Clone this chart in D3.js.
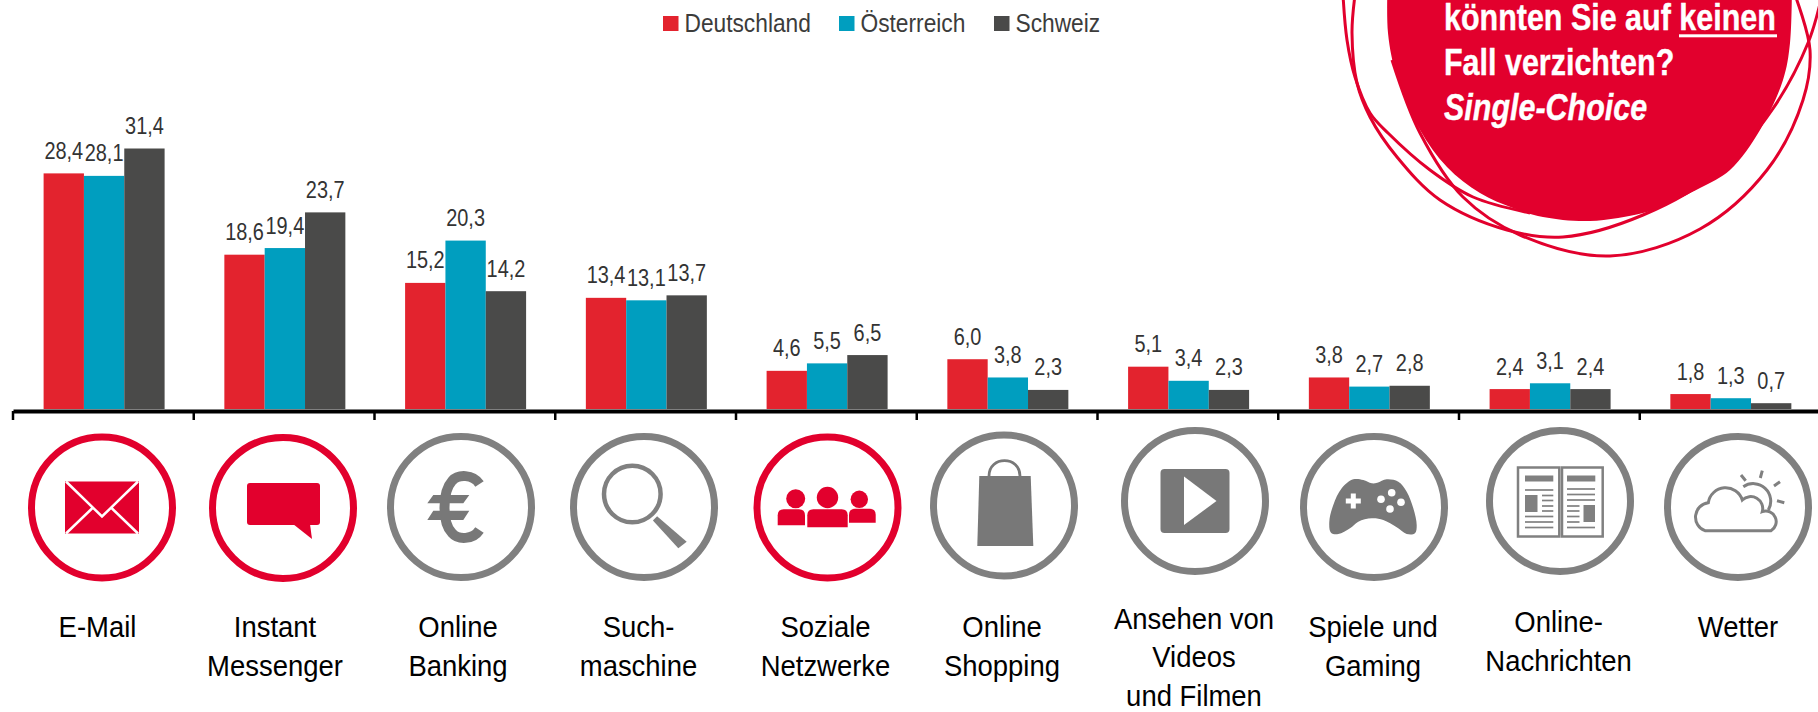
<!DOCTYPE html>
<html lang="de">
<head>
<meta charset="utf-8">
<title>Internet-Anwendungen</title>
<script src="https://cdn.jsdelivr.net/npm/d3@7"></script>
<style>
  html, body { margin: 0; padding: 0; background: #fff; overflow: hidden; }
  svg { display: block; }
  text { font-family: "Liberation Sans", Arial, sans-serif; }
</style>
</head>
<body>
<svg id="viz" width="1818" height="712"></svg>
<script>
// Chart data
const categories = ["E-Mail", "Instant Messenger", "Online Banking", "Suchmaschine", "Soziale Netzwerke",
  "Online Shopping", "Ansehen von Videos und Filmen", "Spiele und Gaming", "Online-Nachrichten", "Wetter"];
const categoryLines = [["E-Mail"], ["Instant", "Messenger"], ["Online", "Banking"], ["Such-", "maschine"], ["Soziale", "Netzwerke"],
  ["Online", "Shopping"], ["Ansehen von", "Videos", "und Filmen"], ["Spiele und", "Gaming"], ["Online-", "Nachrichten"], ["Wetter"]];
const seriesNames = ["Deutschland", "Österreich", "Schweiz"];
const deutschland = [28.4, 18.6, 15.2, 13.4, 4.6, 6.0, 5.1, 3.8, 2.4, 1.8];
const oesterreich = [28.1, 19.4, 20.3, 13.1, 5.5, 3.8, 3.4, 2.7, 3.1, 1.3];
const schweiz = [31.4, 23.7, 14.2, 13.7, 6.5, 2.3, 2.3, 2.8, 2.4, 0.7];
const questionLines = ["könnten Sie auf ", "Fall verzichten?", "Single-Choice"];
const questionEmphasis = "keinen";

(function () {
  "use strict";

  /*
  |--------------------------------------------------------------------------
  | Layout settings
  |--------------------------------------------------------------------------
  */

  const red = "#e3232e";
  const teal = "#009ebf";
  const dark = "#4a4a49";
  const brand = "#e2002d";
  const grey = "#808080";
  const greyFill = "#787878";

  const baseline = 409;

  // Icon circles and label blocks do not sit quite on the band centres
  const iconX = [102, 283, 461, 644, 827.5, 1004, 1195, 1374, 1560, 1738];
  const iconY = [507.5, 508, 507, 507, 507.5, 505.5, 501, 507, 501, 507];
  const labelX = [97.5, 275, 458, 638.5, 825.5, 1002, 1194, 1373, 1558.6, 1738];
  const labelY = [637, 637, 637, 637, 637, 637, 628.5, 637, 632, 637];
  const lineStep = 38.5;

  const legendX = [663, 839, 994];

  /*
  |--------------------------------------------------------------------------
  | Scales
  |--------------------------------------------------------------------------
  */

  const x = d3.scaleBand().domain(categories).range([13, 1820.5]);
  const xInner = d3.scaleBand().domain(seriesNames).range([30.6, 151.6]);
  const y = d3.scaleLinear().domain([0, 31.4]).range([baseline, 148.5]);
  const color = d3.scaleOrdinal().domain(seriesNames).range([red, teal, dark]);

  const comma = d3.formatLocale({ decimal: ",", thousands: ".", grouping: [3], currency: ["", ""] }).format(".1f");
  const seriesValues = [deutschland, oesterreich, schweiz];

  const svg = d3.select("#viz");

  /*
  |--------------------------------------------------------------------------
  | Bars and value labels
  |--------------------------------------------------------------------------
  */

  const cells = [];
  seriesNames.forEach((s, i) => {
    categories.forEach((c, j) => cells.push({ series: s, category: c, value: seriesValues[i][j] }));
  });

  const bars = svg.append("g");

  bars.selectAll("rect")
    .data(cells)
    .enter()
    .append("rect")
    .attr("x", d => x(d.category) + xInner(d.series))
    .attr("y", d => y(d.value))
    .attr("width", xInner.bandwidth())
    .attr("height", d => baseline - y(d.value))
    .attr("fill", d => color(d.series));

  bars.selectAll("text")
    .data(cells)
    .enter()
    .append("text")
    .attr("transform", d => `translate(${x(d.category) + xInner(d.series) + xInner.bandwidth() / 2},${y(d.value) - 14.5}) scale(0.83,1)`)
    .attr("text-anchor", "middle")
    .attr("font-size", 24)
    .attr("fill", "#333")
    .text(d => comma(d.value));

  /*
  |--------------------------------------------------------------------------
  | Axis (ticks sit between the bands)
  |--------------------------------------------------------------------------
  */

  const axis = svg.append("g")
    .attr("transform", "translate(0,411)")
    .call(d3.axisBottom(x).tickSizeInner(9).tickSizeOuter(0).tickFormat(""));

  axis.select(".domain").attr("stroke", "#000").attr("stroke-width", 3.8);
  axis.selectAll(".tick").attr("transform", d => `translate(${x(d)},0)`);
  axis.selectAll(".tick line").attr("stroke", "#000").attr("stroke-width", 2.5);

  /*
  |--------------------------------------------------------------------------
  | Legend
  |--------------------------------------------------------------------------
  */

  const legend = svg.append("g")
    .selectAll("g")
    .data(seriesNames)
    .enter()
    .append("g")
    .attr("transform", (d, i) => `translate(${legendX[i]},16)`);

  legend.append("rect")
    .attr("width", 15.5)
    .attr("height", 15)
    .attr("fill", d => color(d));

  legend.append("text")
    .attr("transform", "translate(21.5,16.3) scale(0.875,1)")
    .attr("font-size", 26)
    .attr("fill", "#3c3c3b")
    .text(d => d);

  /*
  |--------------------------------------------------------------------------
  | Category labels
  |--------------------------------------------------------------------------
  */

  const labels = svg.append("g")
    .selectAll("g")
    .data(categoryLines)
    .enter()
    .append("g")
    .attr("transform", (d, i) => `translate(${labelX[i]},${labelY[i]})`);

  labels.selectAll("text")
    .data(d => d)
    .enter()
    .append("text")
    .attr("transform", (d, i) => `translate(0,${i * lineStep}) scale(0.915,1)`)
    .attr("text-anchor", "middle")
    .attr("font-size", 30)
    .attr("fill", "#000")
    .text(d => d);

  /*
  |--------------------------------------------------------------------------
  | Icons (local coordinates, origin at the circle centre)
  |--------------------------------------------------------------------------
  */

  const spline = d3.line().curve(d3.curveCatmullRomClosed);

  function envelope(g) {
    g.append("rect").attr("x", -37).attr("y", -26).attr("width", 74).attr("height", 52).attr("fill", brand);
    g.append("path")
      .attr("d", "M-36,-26L0,9L36,-26M-36,26L-9,0M36,26L9,0")
      .attr("fill", "none").attr("stroke", "#fff").attr("stroke-width", 2.5);
  }

  function bubble(g) {
    g.append("rect").attr("x", -36).attr("y", -25).attr("width", 73).attr("height", 42).attr("rx", 3).attr("fill", brand);
    g.append("path").attr("d", "M10,16L29,31L27,16Z").attr("fill", brand);
  }

  function euro(g) {
    g.append("path")
      .attr("d", "M18.5,-23C12,-33 -3,-33 -9,-26C-19,-15 -19,16 -9,26C-3,33 12,33 18.5,23")
      .attr("fill", "none").attr("stroke", greyFill).attr("stroke-width", 10);
    g.append("path")
      .attr("d", "M-27.7,-12L8.3,-12L2.3,-3.7L-33.7,-3.7ZM-27.7,3.7L8.3,3.7L2.3,13L-33.7,13Z")
      .attr("fill", greyFill);
  }

  function magnifier(g) {
    g.append("circle").attr("cx", -11.7).attr("cy", -13).attr("r", 28.3)
      .attr("fill", "none").attr("stroke", grey).attr("stroke-width", 4.5);
    g.append("path").attr("d", "M13.1,9.2L42.7,34.7L34.3,41.3L8.9,13.4Z").attr("fill", grey);
  }

  // Shoulders: rounded on the top corners only
  function body(x0, x1, y0, y1) {
    return `M${x0},${y1}V${y0 + 6}Q${x0},${y0} ${x0 + 6},${y0}H${x1 - 6}Q${x1},${y0} ${x1},${y0 + 6}V${y1}Z`;
  }

  function people(g) {
    [[-31.8, -8.8, 9.5], [0, -10, 10.7], [31.8, -8.2, 8.7]].forEach(h => {
      g.append("circle").attr("cx", h[0]).attr("cy", h[1]).attr("r", h[2]).attr("fill", brand);
    });
    [[-49.8, -22.5, 1.8, 17.8], [-20.2, 20.2, 1.8, 19.8], [21.5, 48.2, 1.2, 15.2]].forEach(b => {
      g.append("path").attr("d", body(b[0], b[1], b[2], b[3])).attr("fill", brand);
    });
  }

  function bag(g) {
    g.append("path").attr("d", "M-24.7,-29.5L26.7,-29.5L29.3,40.5L-26.7,40.5Z").attr("fill", greyFill);
    g.append("path").attr("d", "M-15,-29.5C-15,-50 16,-50 16,-29.5")
      .attr("fill", "none").attr("stroke", greyFill).attr("stroke-width", 2.8);
  }

  function play(g) {
    g.append("rect").attr("x", -34.5).attr("y", -32).attr("width", 69).attr("height", 64).attr("rx", 4).attr("fill", greyFill);
    g.append("path").attr("d", "M-11,-24.5L21.5,0L-11,24Z").attr("fill", "#fff");
  }

  function gamepad(g) {
    const outline = [[-20.7, -27.7], [-10.7, -27], [-2.3, -23.7], [3.3, -24.3], [12.7, -27.7], [24.3, -25.3], [32.7, -15.3],
      [39.3, 1.3], [42.7, 18], [41, 26.3], [32.7, 27], [22.7, 20.3], [9.3, 13], [-2.3, 11.3], [-15.7, 14.7], [-24, 21.3],
      [-35.7, 27], [-43, 25.7], [-44.7, 14.7], [-40.7, -2], [-32.3, -18.7]];
    g.append("path").attr("d", spline(outline)).attr("fill", greyFill);
    g.append("path").attr("d", "M-28.2,-6H-13.2M-20.7,-13.5V1.5").attr("stroke", "#fff").attr("stroke-width", 5);
    [[17.7, -14.3], [7, -7.7], [27, -4.7], [16, 2]].forEach(p => {
      g.append("circle").attr("cx", p[0]).attr("cy", p[1]).attr("r", 3.8).attr("fill", "#fff");
    });
  }

  function newspaper(g) {
    [[-42, 41.3], [2, 40.7]].forEach(p => {
      g.append("rect").attr("x", p[0]).attr("y", -33.5).attr("width", p[1]).attr("height", 69)
        .attr("fill", "#fff").attr("stroke", grey).attr("stroke-width", 2.5);
    });
    [[-35, 28.3], [7, 28.3]].forEach(p => {
      g.append("rect").attr("x", p[0]).attr("y", -25.5).attr("width", p[1]).attr("height", 6).attr("fill", grey);
    });
    g.append("rect").attr("x", -35).attr("y", -6).attr("width", 12.5).attr("height", 17).attr("fill", grey);
    g.append("rect").attr("x", 23.5).attr("y", 4).attr("width", 11.5).attr("height", 17).attr("fill", grey);
    const rules = [
      [-35, -6.7, -11], [-18, -6.7, -5.5], [-18, -6.7, -0.5], [-18, -6.7, 5], [-18, -6.7, 10],
      [-35, -6.7, 15.5], [-35, -6.7, 21], [-35, -6.7, 26.5],
      [7, 35, -12], [7, 35, -6.5], [7, 35, -1], [7, 19.5, 5], [7, 19.5, 10], [7, 19.5, 15.5], [7, 19.5, 21], [7, 35, 26.5]
    ];
    rules.forEach(r => {
      g.append("line").attr("x1", r[0]).attr("x2", r[1]).attr("y1", r[2]).attr("y2", r[2])
        .attr("stroke", grey).attr("stroke-width", 1.7);
    });
  }

  function weather(g) {
    g.append("path")
      .attr("d", "M-33,23.7A14.5,14.5 0 0 1 -29.7,-4.3A17.5,17.5 0 0 1 4.3,-7A12,12 0 0 1 24.3,4.7A10.5,10.5 0 0 1 33,23.7Z")
      .attr("fill", "none").attr("stroke", grey).attr("stroke-width", 3);
    g.append("path")
      .attr("d", "M5.3,-20.3A17.5,17.5 0 0 1 30.3,3M3,-32L7.7,-26.3M24.3,-36.3L22.3,-29M42,-25.3L36,-21M46.3,-4.3L39,-6.3")
      .attr("fill", "none").attr("stroke", grey).attr("stroke-width", 3);
  }

  const iconDraw = [envelope, bubble, euro, magnifier, people, bag, play, gamepad, newspaper, weather];
  const iconHighlighted = [true, true, false, false, true, false, false, false, false, false];

  svg.append("g")
    .selectAll("g")
    .data(iconDraw)
    .enter()
    .append("g")
    .attr("transform", (d, i) => `translate(${iconX[i]},${iconY[i]})`)
    .each(function (d, i) {
      const g = d3.select(this);
      g.append("circle")
        .attr("r", 70.5)
        .attr("fill", "none")
        .attr("stroke", iconHighlighted[i] ? brand : grey)
        .attr("stroke-width", 7);
      d(g);
    });

  /*
  |--------------------------------------------------------------------------
  | Question bubble, top right (traced outline and hand drawn rings)
  |--------------------------------------------------------------------------
  */

  const open = d3.line().curve(d3.curveCatmullRom);

  const blob = [[1388, -30], [1388, 33], [1397, 77], [1420, 130], [1447, 167], [1480, 193], [1513, 208], [1543, 217], [1590, 221],
    [1643, 213], [1660, 207], [1700, 188], [1730, 170], [1760, 130], [1783, 80], [1790, 43], [1792, -30]];

  const rings = [
    // outer ring, bottom right
    [[1392, 60], [1420, 133], [1463, 197], [1520, 235], [1610, 256], [1700, 229], [1767, 170], [1803, 100], [1810, 50], [1795, -5]],
    // middle ring
    [[1355, -5], [1352, 33], [1357, 83], [1370, 117], [1397, 157], [1440, 200], [1507, 230], [1563, 237], [1643, 215], [1720, 170], [1772, 110], [1808, 43], [1822, -5]],
    // inner ring
    [[1343, -5], [1347, 40], [1355, 77], [1370, 113], [1388, 133], [1430, 170], [1473, 197], [1530, 213]]
  ];

  const bubbleGroup = svg.append("g");

  bubbleGroup.append("path").attr("d", open(blob)).attr("fill", brand);

  bubbleGroup.selectAll(".ring")
    .data(rings)
    .enter()
    .append("path")
    .attr("class", "ring")
    .attr("d", d => open(d))
    .attr("fill", "none")
    .attr("stroke", brand)
    .attr("stroke-width", 3);

  const question = bubbleGroup.append("g")
    .selectAll("text")
    .data(questionLines)
    .enter()
    .append("text")
    .attr("transform", (d, i) => `translate(1444,${30 + i * 45}) scale(0.835,1)`)
    .attr("font-size", 36.5)
    .attr("font-weight", "bold")
    .attr("font-style", (d, i) => i === 2 ? "italic" : "normal")
    .attr("fill", "#fff")
    .attr("stroke", "#fff")
    .attr("stroke-width", 0.4)
    .text(d => d);

  question.filter((d, i) => i === 0)
    .append("tspan")
    .text(questionEmphasis);

  bubbleGroup.append("rect")
    .attr("x", 1679)
    .attr("y", 34.3)
    .attr("width", 98)
    .attr("height", 3)
    .attr("fill", "#fff");

})();
</script>
</body>
</html>
